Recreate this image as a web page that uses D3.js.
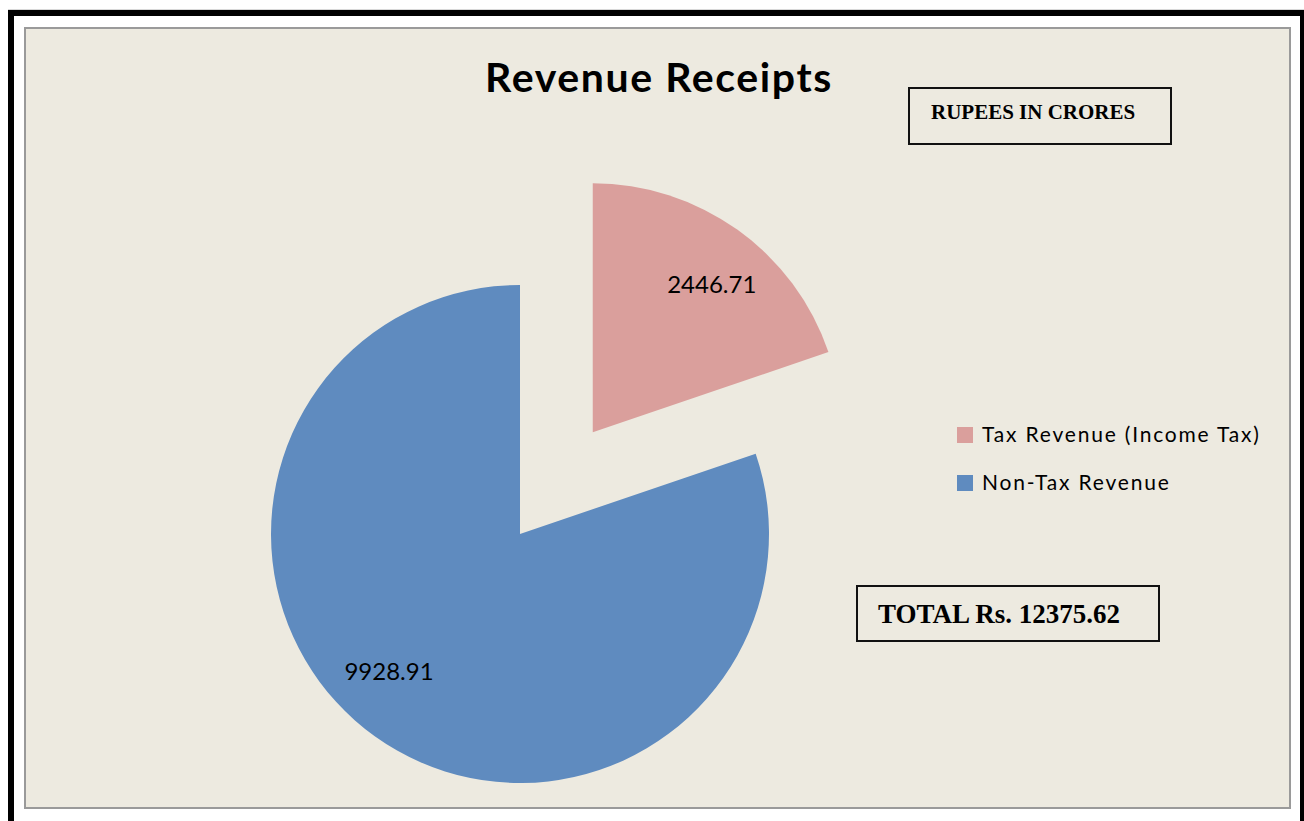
<!DOCTYPE html>
<html>
<head>
<meta charset="utf-8">
<script src="https://cdn.jsdelivr.net/npm/d3@7"></script>
<style>
  html, body { margin: 0; padding: 0; background: #ffffff; }
  svg { display: block; }
</style>
</head>
<body>
<svg id="chart" width="1304" height="821"></svg>
<script>
// ---- data ----
const categories = ["Tax Revenue (Income Tax)", "Non-Tax Revenue"];
const values = [2446.71, 9928.91];
const labels = ["2446.71", "9928.91"];
const colors = ["#DA9F9C", "#5F8BBF"];
const exploded = [true, false];
const titleText = "Revenue Receipts";
const unitText = "RUPEES IN CRORES";
const totalText = "TOTAL Rs. 12375.62";

// ---- layout ----
const svg = d3.select("#chart");

// outer black frame
svg.append("rect").attr("x", 11).attr("y", 13).attr("width", 1292).attr("height", 830)
  .attr("fill", "none").attr("stroke", "#000").attr("stroke-width", 6);
svg.append("line").attr("x1", 8).attr("x2", 1304).attr("y1", 9.5).attr("y2", 9.5)
  .attr("stroke", "#d8d8d8").attr("stroke-width", 1);

// chart area
svg.append("rect").attr("x", 25).attr("y", 28).attr("width", 1265).attr("height", 780)
  .attr("fill", "#EDEAE0").attr("stroke", "#9a9a9a").attr("stroke-width", 2);

// title
svg.append("text").attr("x", 659).attr("y", 92).attr("text-anchor", "middle")
  .attr("font-family", "Lato, 'Open Sans', sans-serif").attr("font-weight", "bold")
  .attr("font-size", 41).attr("letter-spacing", 1.6).attr("fill", "#000").text(titleText);

// pie
const cx = 520, cy = 534, R = 249, explodeDist = 125, labelR = 190;
const labelShift = [3.2, 8].map(a => a * Math.PI / 180); // placement nudge (best-fit style)
const pie = d3.pie().sort(null).value(d => d.value).startAngle(0).endAngle(2 * Math.PI);
const arcs = pie(categories.map((c, i) => ({ name: c, value: values[i], i })));
const arcGen = d3.arc().innerRadius(0).outerRadius(R);

const g = svg.append("g").attr("transform", `translate(${cx},${cy})`);
const slices = g.selectAll("g.slice").data(arcs).join("g").attr("class", "slice")
  .attr("transform", d => {
    if (!exploded[d.data.i]) return null;
    const mid = (d.startAngle + d.endAngle) / 2;
    return `translate(${Math.sin(mid) * explodeDist},${-Math.cos(mid) * explodeDist})`;
  });
slices.append("path").attr("d", arcGen).attr("fill", d => colors[d.data.i]);
slices.append("text")
  .attr("transform", d => {
    const a = (d.startAngle + d.endAngle) / 2 + labelShift[d.data.i];
    return `translate(${Math.sin(a) * labelR},${-Math.cos(a) * labelR})`;
  })
  .attr("text-anchor", "middle").attr("dy", "0.35em")
  .attr("font-family", "Lato, 'Open Sans', sans-serif").attr("font-size", 24)
  .attr("fill", "#000").text(d => labels[d.data.i]);

// legend
const legend = svg.append("g").attr("transform", "translate(957,427)");
const li = legend.selectAll("g").data(categories).join("g")
  .attr("transform", (d, i) => `translate(0,${i * 48})`);
li.append("rect").attr("width", 16).attr("height", 16).attr("fill", (d, i) => colors[i]);
li.append("text").attr("x", 25).attr("y", 8).attr("dy", "0.35em")
  .attr("font-family", "Lato, 'Open Sans', sans-serif").attr("font-size", 21)
  .attr("letter-spacing", 1.8).attr("fill", "#000").text(d => d);

// unit box
svg.append("rect").attr("x", 909).attr("y", 88).attr("width", 262).attr("height", 56)
  .attr("fill", "none").attr("stroke", "#111").attr("stroke-width", 2);
svg.append("text").attr("x", 931).attr("y", 119)
  .attr("font-family", "'Liberation Serif', 'Times New Roman', serif").attr("font-weight", "bold")
  .attr("font-size", 21).attr("fill", "#000").text(unitText);

// total box
svg.append("rect").attr("x", 857).attr("y", 586).attr("width", 302).attr("height", 55)
  .attr("fill", "none").attr("stroke", "#111").attr("stroke-width", 2);
svg.append("text").attr("x", 878).attr("y", 623)
  .attr("font-family", "'Liberation Serif', 'Times New Roman', serif").attr("font-weight", "bold")
  .attr("font-size", 27).attr("fill", "#000").text(totalText);
</script>
</body>
</html>
